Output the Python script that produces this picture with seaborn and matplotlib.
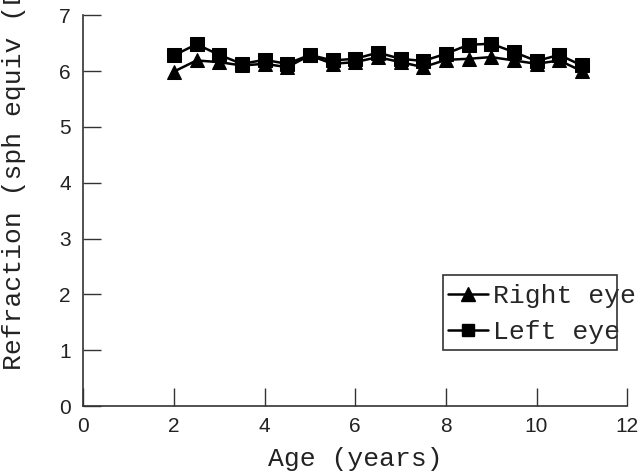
import numpy as np
import pandas as pd
import matplotlib
matplotlib.use("Agg")
import matplotlib.pyplot as plt
from matplotlib.patches import Rectangle
import seaborn as sns

# data
age = [2, 2.5, 3, 3.5, 4, 4.5, 5, 5.5, 6, 6.5, 7, 7.5, 8, 8.5, 9, 9.5, 10, 10.5, 11]
right_eye = [5.99, 6.19, 6.16, 6.10, 6.13, 6.07, 6.28, 6.13, 6.16, 6.25, 6.16, 6.07,
             6.20, 6.22, 6.25, 6.19, 6.13, 6.19, 6.00]
left_eye = [6.28, 6.48, 6.29, 6.13, 6.20, 6.13, 6.29, 6.19, 6.22, 6.33, 6.22, 6.18,
            6.31, 6.47, 6.49, 6.34, 6.18, 6.29, 6.10]

df = pd.concat([
    pd.DataFrame({"age": age, "refr": right_eye, "eye": "Right eye"}),
    pd.DataFrame({"age": age, "refr": left_eye, "eye": "Left eye"}),
])

sns.set_style("white")
mono = "Liberation Mono"
sans = "Liberation Sans"

fig = plt.figure(figsize=(6.4, 4.76), dpi=100)
ax = fig.add_axes([0.13, 0.147, 0.85, 0.821])

sns.lineplot(data=df, x="age", y="refr", style="eye",
             markers={"Right eye": "^", "Left eye": "s"}, dashes=False,
             color="black", linewidth=1.8, markersize=10, markeredgecolor="black",
             ax=ax, legend=False)

ax.set_xlim(0, 12)
ax.set_ylim(0, 7)
ax.set_xticks(range(0, 13, 2))
ax.set_yticks(range(0, 8))
for s in ["top", "right"]:
    ax.spines[s].set_visible(False)
for s in ["left", "bottom"]:
    ax.spines[s].set_color("#333333")
    ax.spines[s].set_linewidth(1.2)
ax.tick_params(bottom=True, left=True, direction="in", length=13, width=1.0,
               color="#333333", labelsize=15)
ax.tick_params(axis="x", pad=8)
ax.tick_params(axis="y", pad=9)
for lab in ax.get_xticklabels() + ax.get_yticklabels():
    lab.set_fontfamily(sans)
    lab.set_color("#222222")

ax.set_xlabel("Age (years)", fontfamily=mono, fontsize=19, color="#222222", labelpad=8)
ax.set_ylabel("")
fig.text(14 / 640, (476 - 370) / 476, "Refraction (sph equiv (D))", rotation=90,
         ha="center", va="bottom", fontfamily=mono, fontsize=19, color="#222222")

# legend: text overflows its box in the reference, so draw the box separately
handles = [
    plt.Line2D([], [], color="black", marker="^", markersize=10, linewidth=1.8),
    plt.Line2D([], [], color="black", marker="s", markersize=9, linewidth=1.8),
]
leg = ax.legend(handles, ["Right eye", "Left eye"], loc="upper left",
                bbox_to_anchor=(448 / 640, (476 - 284) / 476),
                bbox_transform=fig.transFigure,
                prop={"family": mono, "size": 19}, frameon=False,
                handlelength=1.5, handletextpad=0.2, borderpad=0,
                labelspacing=0.45, borderaxespad=0)
fig.patches.append(Rectangle((443 / 640, (476 - 350) / 476), 174 / 640, 75 / 476,
                             transform=fig.transFigure, fill=False,
                             edgecolor="#333333", linewidth=1.2))

fig.savefig("out.png", dpi=100)
